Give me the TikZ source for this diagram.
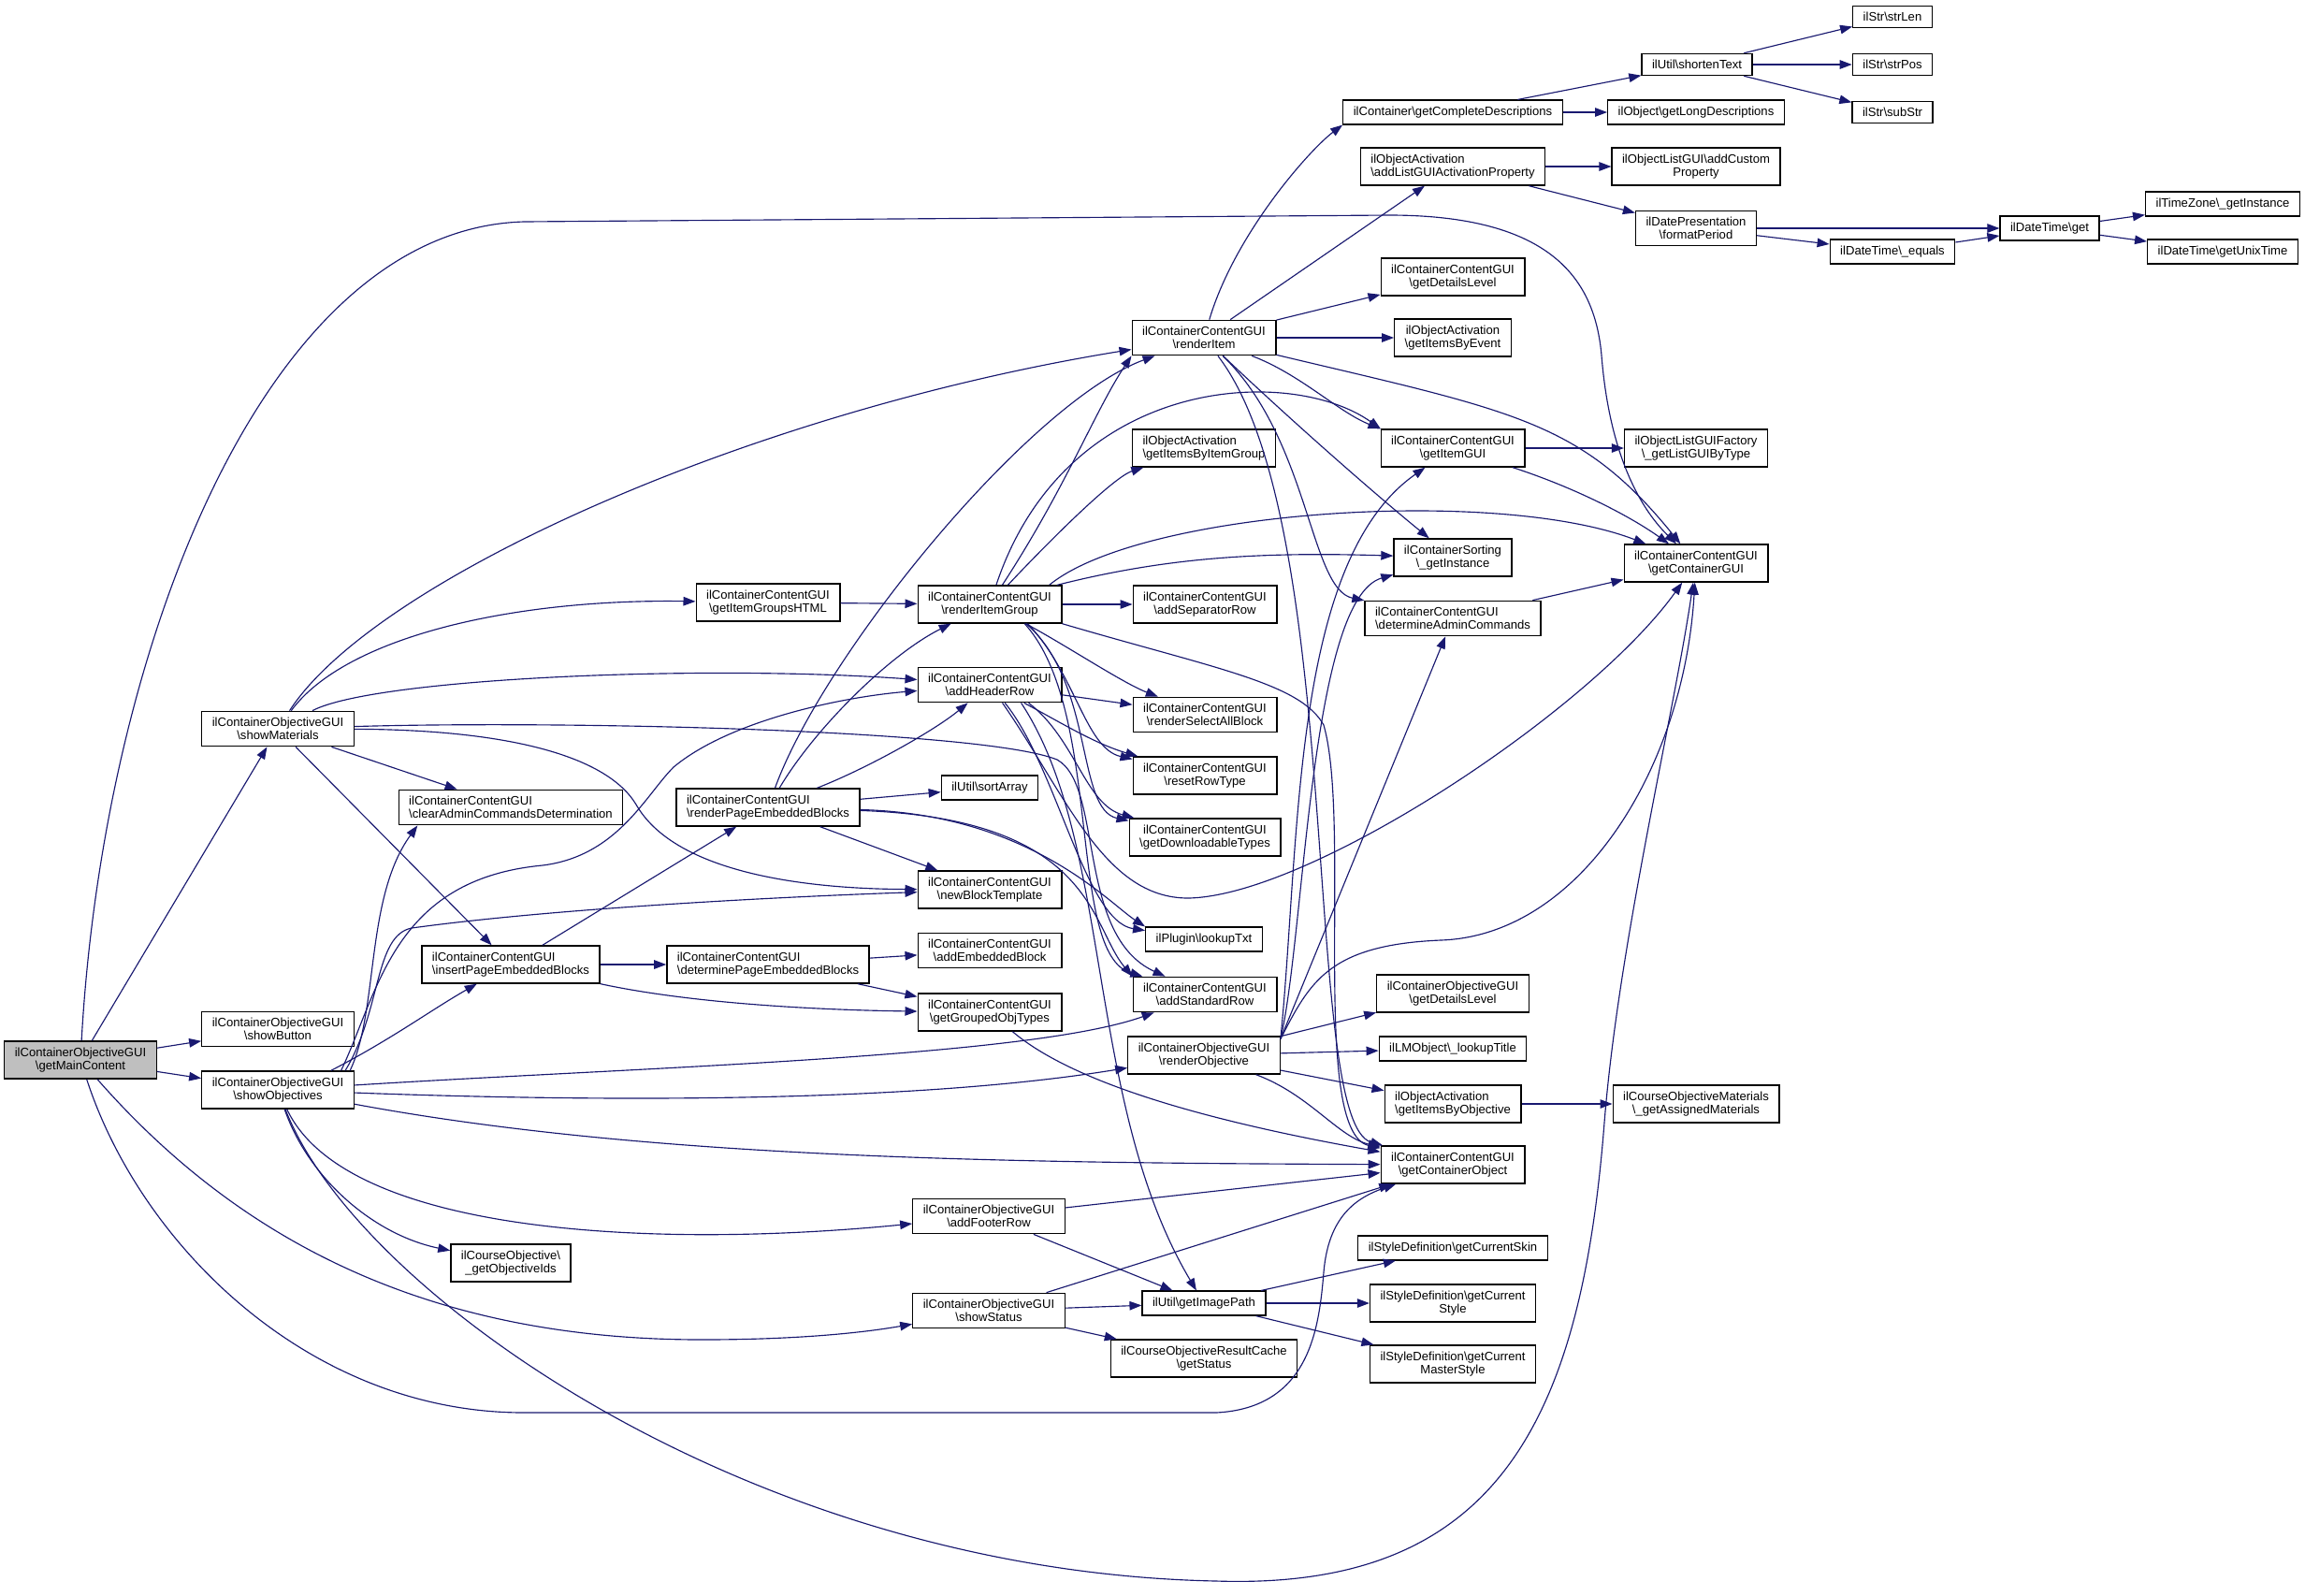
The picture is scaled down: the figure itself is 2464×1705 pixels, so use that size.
\documentclass[tikz,border=0pt]{standalone}
\usepackage{fontspec}
\setmainfont{Liberation Sans}
\usepackage{tikz}
\usetikzlibrary{arrows.meta}
\definecolor{midnight}{RGB}{25,25,112}
\definecolor{rootgray}{RGB}{191,191,191}
\newcommand{\bsl}{\textbackslash}
\tikzset{%
    fn/.style={draw=black, line width=0.75pt, fill=white, align=center,
        inner xsep=0.22cm, inner ysep=0.136cm,
        font=\fontsize{7.45}{8.1}\selectfont},
    fnl/.style={fn, align=left},
    fnroot/.style={fn, fill=rootgray},
    call/.style={draw=midnight, line width=0.65pt,
        -{Triangle[length=0.26cm,width=0.19cm]}}
}
\begin{document}
\begin{tikzpicture}[x=0.02cm, y=-0.02cm]
    \fill[white] (0,0) rectangle (2464,1705);
    \useasboundingbox (0,0) rectangle (2464,1705);

    \node[fnroot] (mainc) at (86,1133) {ilContainerObjectiveGUI\\\bsl getMainContent};
    \node[fn] (showmat) at (297,779) {ilContainerObjectiveGUI\\\bsl showMaterials};
    \node[fn] (showbtn) at (297,1100) {ilContainerObjectiveGUI\\\bsl showButton};
    \node[fn] (showobj) at (297,1165) {ilContainerObjectiveGUI\\\bsl showObjectives};
    \node[fnl] (clearadm) at (546,863) {ilContainerContentGUI\\\bsl clearAdminCommandsDetermination};
    \node[fnl] (insertpage) at (546,1031) {ilContainerContentGUI\\\bsl insertPageEmbeddedBlocks};
    \node[fn] (objids) at (546,1350) {ilCourseObjective\bsl\\\_getObjectiveIds};
    \node[fn] (itemgroups) at (821,644) {ilContainerContentGUI\\\bsl getItemGroupsHTML};
    \node[fnl] (renderpage) at (821,863) {ilContainerContentGUI\\\bsl renderPageEmbeddedBlocks};
    \node[fnl] (determinepage) at (821,1031) {ilContainerContentGUI\\\bsl determinePageEmbeddedBlocks};
    \node[fn] (rendergroup) at (1058,646) {ilContainerContentGUI\\\bsl renderItemGroup};
    \node[fn] (headerrow) at (1058,732) {ilContainerContentGUI\\\bsl addHeaderRow};
    \node[fn] (sortarray) at (1058,842) {ilUtil\bsl sortArray};
    \node[fn] (blocktpl) at (1058,951) {ilContainerContentGUI\\\bsl newBlockTemplate};
    \node[fn] (embblock) at (1058,1016) {ilContainerContentGUI\\\bsl addEmbeddedBlock};
    \node[fn] (groupedobj) at (1058,1082) {ilContainerContentGUI\\\bsl getGroupedObjTypes};
    \node[fn] (footerrow) at (1057,1300) {ilContainerObjectiveGUI\\\bsl addFooterRow};
    \node[fn] (showstatus) at (1057,1401) {ilContainerObjectiveGUI\\\bsl showStatus};
    \node[fn] (renderitem) at (1287,361) {ilContainerContentGUI\\\bsl renderItem};
    \node[fnl] (itemsbygroup) at (1287,479) {ilObjectActivation\\\bsl getItemsByItemGroup};
    \node[fn] (seprow) at (1288,646) {ilContainerContentGUI\\\bsl addSeparatorRow};
    \node[fn] (selectall) at (1288,764) {ilContainerContentGUI\\\bsl renderSelectAllBlock};
    \node[fn] (resetrow) at (1288,829) {ilContainerContentGUI\\\bsl resetRowType};
    \node[fn] (downloadable) at (1288,895) {ilContainerContentGUI\\\bsl getDownloadableTypes};
    \node[fn] (lookuptxt) at (1287,1004) {ilPlugin\bsl lookupTxt};
    \node[fn] (standardrow) at (1288,1063) {ilContainerContentGUI\\\bsl addStandardRow};
    \node[fn] (renderobj) at (1287,1128) {ilContainerObjectiveGUI\\\bsl renderObjective};
    \node[fn] (imagepath) at (1287,1393) {ilUtil\bsl getImagePath};
    \node[fn] (resultstatus) at (1287,1452) {ilCourseObjectiveResultCache\\\bsl getStatus};
    \node[fn] (completedesc) at (1553,120) {ilContainer\bsl getCompleteDescriptions};
    \node[fnl] (activationprop) at (1553,178) {ilObjectActivation\\\bsl addListGUIActivationProperty};
    \node[fn] (detailscc) at (1553,296) {ilContainerContentGUI\\\bsl getDetailsLevel};
    \node[fn] (itemsbyevent) at (1553,361) {ilObjectActivation\\\bsl getItemsByEvent};
    \node[fn] (itemgui) at (1553,479) {ilContainerContentGUI\\\bsl getItemGUI};
    \node[fn] (sorting) at (1553,596) {ilContainerSorting\\\bsl\_getInstance};
    \node[fnl] (determineadmin) at (1553,661) {ilContainerContentGUI\\\bsl determineAdminCommands};
    \node[fn] (detailsobj) at (1553,1062) {ilContainerObjectiveGUI\\\bsl getDetailsLevel};
    \node[fn] (lookuptitle) at (1553,1121) {ilLMObject\bsl\_lookupTitle};
    \node[fnl] (itemsbyobj) at (1553,1180) {ilObjectActivation\\\bsl getItemsByObjective};
    \node[fn] (containerobj) at (1553,1245) {ilContainerContentGUI\\\bsl getContainerObject};
    \node[fn] (curskin) at (1553,1334) {ilStyleDefinition\bsl getCurrentSkin};
    \node[fn] (curstyle) at (1553,1393) {ilStyleDefinition\bsl getCurrent\\Style};
    \node[fn] (curmaster) at (1553,1458) {ilStyleDefinition\bsl getCurrent\\MasterStyle};
    \node[fn] (shorten) at (1814,69) {ilUtil\bsl shortenText};
    \node[fn] (longdesc) at (1813,120) {ilObject\bsl getLongDescriptions};
    \node[fn] (customprop) at (1813,178) {ilObjectListGUI\bsl addCustom\\Property};
    \node[fn] (formatperiod) at (1813,244) {ilDatePresentation\\\bsl formatPeriod};
    \node[fn] (listguibytype) at (1813,479) {ilObjectListGUIFactory\\\bsl\_getListGUIByType};
    \node[fn] (containergui) at (1813,602) {ilContainerContentGUI\\\bsl getContainerGUI};
    \node[fn] (assigned) at (1813,1180) {ilCourseObjectiveMaterials\\\bsl\_getAssignedMaterials};
    \node[fn] (strlen) at (2023,18) {ilStr\bsl strLen};
    \node[fn] (strpos) at (2023,69) {ilStr\bsl strPos};
    \node[fn] (substr) at (2023,120) {ilStr\bsl subStr};
    \node[fn] (dtequals) at (2023,269) {ilDateTime\bsl\_equals};
    \node[fn] (dtget) at (2191,244) {ilDateTime\bsl get};
    \node[fn] (tzinstance) at (2376,218) {ilTimeZone\bsl\_getInstance};
    \node[fn] (unixtime) at (2376,269) {ilDateTime\bsl getUnixTime};

    \foreach \a/\b in {mainc/showmat, mainc/showbtn, mainc/showobj,
        showmat/clearadm, showmat/insertpage, insertpage/determinepage,
        insertpage/renderpage, determinepage/embblock, determinepage/groupedobj,
        renderpage/sortarray, renderpage/blocktpl, itemgroups/rendergroup,
        rendergroup/seprow, headerrow/selectall, renderitem/activationprop,
        renderitem/detailscc, renderitem/itemsbyevent, completedesc/shorten,
        completedesc/longdesc, shorten/strlen, shorten/strpos, shorten/substr,
        activationprop/customprop, activationprop/formatperiod, formatperiod/dtget,
        formatperiod/dtequals, dtequals/dtget, dtget/tzinstance, dtget/unixtime,
        itemgui/listguibytype, determineadmin/containergui, renderobj/detailsobj,
        renderobj/lookuptitle, renderobj/itemsbyobj, itemsbyobj/assigned,
        footerrow/containerobj, footerrow/imagepath, showstatus/imagepath,
        showstatus/resultstatus, showstatus/containerobj, imagepath/curskin,
        imagepath/curstyle, imagepath/curmaster}
        \draw[call] (\a) -- (\b);

    \draw[call] (mainc) .. controls (110,700) and (280,245) .. (560,237) -- (1485,230)
        .. controls (1660,230) and (1705,300) .. (1712,380)
        .. controls (1720,480) and (1750,540) .. (containergui);
    \draw[call] (mainc) .. controls (150,1330) and (330,1510) .. (560,1510) -- (1300,1510)
        .. controls (1400,1505) and (1410,1420) .. (1415,1360)
        .. controls (1420,1300) and (1450,1280) .. (containerobj);
    \draw[call] (mainc) .. controls (250,1320) and (450,1432) .. (750,1432)
        .. controls (850,1432) and (920,1425) .. (showstatus);

    \draw[call] (showmat) .. controls (400,620) and (800,440) .. (renderitem);
    \draw[call] (showmat) .. controls (370,680) and (550,640) .. (itemgroups);
    \draw[call] (showmat) .. controls (400,725) and (750,710) .. (headerrow);
    \draw[call] (showmat) .. controls (600,770) and (1050,780) .. (1130,812)
        .. controls (1180,840) and (1150,1000) .. (standardrow);
    \draw[call] (showmat) .. controls (550,780) and (650,810) .. (680,860)
        .. controls (720,930) and (850,950) .. (blocktpl);

    \draw[call] (showobj.20) .. controls (420,1110) and (460,1080) .. (insertpage);
    \draw[call] (showobj.15) .. controls (405,1080) and (390,960) .. (clearadm.191);
    \draw[call] (showobj.17) .. controls (405,1060) and (420,940) .. (580,925)
        .. controls (660,915) and (690,850) .. (720,820)
        .. controls (780,770) and (900,745) .. (headerrow);
    \draw[call] (showobj.16) .. controls (408,1080) and (400,1000) .. (440,992)
        .. controls (600,970) and (850,958) .. (blocktpl);
    \draw[call] (showobj) .. controls (700,1140) and (1100,1130) .. (standardrow);
    \draw[call] (showobj) .. controls (700,1180) and (1000,1175) .. (renderobj);
    \draw[call] (showobj) .. controls (700,1240) and (1100,1243) .. (containerobj);
    \draw[call] (showobj) .. controls (370,1320) and (700,1335) .. (footerrow);
    \draw[call] (showobj) .. controls (330,1260) and (400,1320) .. (objids);
    \draw[call] (showobj) .. controls (380,1380) and (800,1680) .. (1300,1690)
        .. controls (1600,1700) and (1690,1520) .. (1715,1200)
        .. controls (1730,1010) and (1790,760) .. (containergui);

    \draw[call] (insertpage) .. controls (750,1075) and (900,1080) .. (groupedobj);
    \draw[call] (renderpage) .. controls (930,820) and (1000,780) .. (headerrow);
    \draw[call] (renderpage) .. controls (870,780) and (950,700) .. (rendergroup);
    \draw[call] (renderpage) .. controls (880,700) and (1100,430) .. (renderitem);
    \draw[call] (renderpage) .. controls (1100,870) and (1185,965) .. (lookuptxt.north west);
    \draw[call] (renderpage) .. controls (1170,875) and (1165,990) .. (standardrow.north west);

    \draw[call] (rendergroup) .. controls (1140,520) and (1170,440) .. (renderitem.south west);
    \draw[call] (rendergroup) .. controls (1120,580) and (1190,510) .. (itemsbygroup);
    \draw[call] (rendergroup) .. controls (1140,400) and (1380,390) .. (itemgui.165);
    \draw[call] (rendergroup.18) .. controls (1220,545) and (1600,520) .. (containergui);
    \draw[call] (rendergroup.16) .. controls (1250,595) and (1350,590) .. (sorting);
    \draw[call] (rendergroup) .. controls (1140,690) and (1200,730) .. (selectall);
    \draw[call] (rendergroup.-27) .. controls (1150,720) and (1160,800) .. (resetrow);
    \draw[call] (rendergroup.-28) .. controls (1170,730) and (1150,865) .. (downloadable);
    \draw[call] (rendergroup.-29) .. controls (1180,760) and (1140,1020) .. (standardrow);
    \draw[call] (rendergroup.south east) .. controls (1300,715) and (1390,730) .. (1415,775)
        .. controls (1445,880) and (1400,1210) .. (containerobj);

    \draw[call] (headerrow) .. controls (1130,770) and (1170,795) .. (resetrow);
    \draw[call] (headerrow.-25) .. controls (1150,790) and (1160,860) .. (downloadable);
    \draw[call] (headerrow.-50) .. controls (1130,820) and (1160,985) .. (lookuptxt);
    \draw[call] (headerrow.-55) .. controls (1140,850) and (1180,960) .. (1270,960)
        .. controls (1400,958) and (1700,760) .. (containergui);
    \draw[call] (headerrow.-30) .. controls (1190,900) and (1160,1180) .. (imagepath);

    \draw[call] (renderitem) .. controls (1320,250) and (1400,160) .. (completedesc.south west);
    \draw[call] (renderitem) .. controls (1390,400) and (1430,440) .. (itemgui.north west);
    \draw[call] (renderitem) .. controls (1620,440) and (1690,450) .. (containergui);
    \draw[call] (renderitem) .. controls (1370,440) and (1460,520) .. (sorting);
    \draw[call] (renderitem) .. controls (1400,470) and (1400,630) .. (determineadmin);
    \draw[call] (renderitem) .. controls (1440,560) and (1390,1200) .. (containerobj);

    \draw[call] (itemgui) .. controls (1680,520) and (1740,550) .. (containergui);
    \draw[call] (groupedobj) .. controls (1150,1160) and (1300,1200) .. (containerobj);

    \draw[call] (renderobj) .. controls (1400,1170) and (1430,1215) .. (containerobj);
    \draw[call] (renderobj.12) -- (determineadmin);
    \draw[call] (renderobj.12) .. controls (1395,1000) and (1400,640) .. (sorting);
    \draw[call] (renderobj.12) .. controls (1390,900) and (1380,600) .. (itemgui);
    \draw[call] (renderobj.12) .. controls (1400,1050) and (1420,1010) .. (1540,1005)
        .. controls (1690,1000) and (1800,820) .. (containergui);
\end{tikzpicture}
\end{document}
